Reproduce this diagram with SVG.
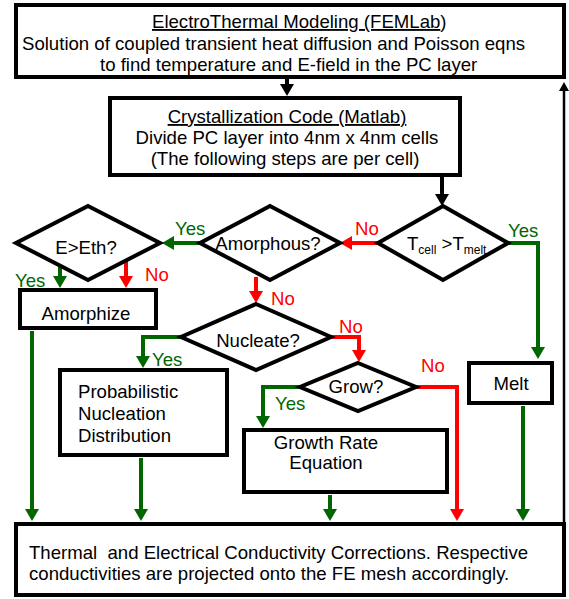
<svg xmlns="http://www.w3.org/2000/svg" width="569" height="599" viewBox="0 0 569 599">
<style>
.box{fill:#fff;stroke:#000;stroke-width:4}
.t{font-family:"Liberation Sans",Arial,sans-serif;font-size:18.6px;fill:#000}
.c{text-anchor:middle}
.u{text-decoration:underline}
.g{fill:none;stroke:#006600;stroke-width:4}
.r{fill:none;stroke:#ff0000;stroke-width:4}
.k{fill:none;stroke:#000;stroke-width:4}
.kt{fill:none;stroke:#000;stroke-width:2.5}
.lg{font-family:"Liberation Sans",Arial,sans-serif;font-size:18.6px;fill:#006600}
.lr{font-family:"Liberation Sans",Arial,sans-serif;font-size:18.6px;fill:#ff0000}
</style>
<defs>
<marker id="ag" markerUnits="userSpaceOnUse" markerWidth="14" markerHeight="14" refX="2" refY="7" orient="auto"><path d="M0,0 L12,7 L0,14 z" fill="#006600"/></marker>
<marker id="ar" markerUnits="userSpaceOnUse" markerWidth="14" markerHeight="14" refX="2" refY="7" orient="auto"><path d="M0,0 L12,7 L0,14 z" fill="#ff0000"/></marker>
<marker id="ak" markerUnits="userSpaceOnUse" markerWidth="14" markerHeight="14" refX="2" refY="7" orient="auto"><path d="M0,0 L12,7 L0,14 z" fill="#000"/></marker>
<marker id="aks" markerUnits="userSpaceOnUse" markerWidth="10" markerHeight="10" refX="1" refY="5" orient="auto"><path d="M0,0 L9,5 L0,10 z" fill="#000"/></marker>
</defs>

<g id="connectors">
<path class="k" d="M287,79 V86" marker-end="url(#ak)"/>
<path class="k" d="M442,176 V196" marker-end="url(#ak)"/>
<path class="r" d="M378,243 H350" marker-end="url(#ar)"/>
<path class="g" d="M508,243 H538 V349" marker-end="url(#ag)"/>
<path class="g" d="M200,243 H172" marker-end="url(#ag)"/>
<path class="g" d="M60,266 V278" marker-end="url(#ag)"/>
<path class="r" d="M126,261 V278" marker-end="url(#ar)"/>
<path class="g" d="M32,331 V511" marker-end="url(#ag)"/>
<path class="r" d="M256,277 V293" marker-end="url(#ar)"/>
<path class="g" d="M181,337 H143 V358" marker-end="url(#ag)"/>
<path class="r" d="M331,337 H359 V352" marker-end="url(#ar)"/>
<path class="g" d="M141,458 V511" marker-end="url(#ag)"/>
<path class="g" d="M300,387 H263 V418" marker-end="url(#ag)"/>
<path class="r" d="M416,387 H457 V511" marker-end="url(#ar)"/>
<path class="g" d="M330,495 V511" marker-end="url(#ag)"/>
<path class="g" d="M523,406 V511" marker-end="url(#ag)"/>
<path class="kt" d="M564,522 V90" marker-end="url(#aks)"/>
</g>

<g id="labels">
<text class="lr" x="355" y="235">No</text>
<text class="lg" x="508" y="237">Yes</text>
<text class="lg" x="175" y="235">Yes</text>
<text class="lg" x="15" y="287">Yes</text>
<text class="lr" x="145" y="281">No</text>
<text class="lr" x="271" y="305">No</text>
<text class="lg" x="152" y="366">Yes</text>
<text class="lr" x="339" y="333">No</text>
<text class="lr" x="421" y="372">No</text>
<text class="lg" x="275" y="410">Yes</text>
</g>

<g id="electrothermal">
<rect class="box" x="16" y="5" width="548" height="72"/>
<text class="t" x="152" y="28"><tspan class="u">ElectroThermal Modeling (FEMLab</tspan>)</text>
<text class="t" x="22" y="50">Solution of coupled transient heat diffusion and Poisson eqns</text>
<text class="t" x="100" y="71">to find temperature and E-field in the PC layer</text>
</g>

<g id="crystallization">
<rect class="box" x="110" y="98" width="350" height="77"/>
<text class="t c u" x="287" y="123">Crystallization Code (Matlab)</text>
<text class="t c" x="287" y="144">Divide PC layer into 4nm x 4nm cells</text>
<text class="t c" x="285" y="165">(The following steps are per cell)</text>
</g>

<g id="tcell">
<polygon class="box" points="443,206 508,243 443,280 378,243"/>
<text class="t" x="407" y="250">T<tspan font-size="12" dy="4">cell</tspan><tspan dy="-4" style="white-space:pre"> &gt;T</tspan><tspan font-size="12" dy="4">melt</tspan></text>
</g>

<g id="amorphous">
<polygon class="box" points="270,206 340,243 270,280 200,243"/>
<text class="t c" x="268" y="250">Amorphous?</text>
</g>

<g id="eeth">
<polygon class="box" points="88,206 160,243 88,280 16,243"/>
<text class="t c" x="86" y="254">E&gt;Eth?</text>
</g>

<g id="amorphize">
<rect class="box" x="20" y="290" width="136" height="38"/>
<text class="t c" x="86" y="320">Amorphize</text>
</g>

<g id="nucleate">
<polygon class="box" points="256,304 331,337 256,370 181,337"/>
<text class="t c" x="258" y="347">Nucleate?</text>
</g>

<g id="probabilistic">
<rect class="box" x="60" y="370" width="167" height="85"/>
<text class="t" x="78" y="398">Probabilistic</text>
<text class="t" x="78" y="420">Nucleation</text>
<text class="t" x="78" y="442">Distribution</text>
</g>

<g id="grow">
<polygon class="box" points="358,363 416,387 358,411 300,387"/>
<text class="t c" x="356" y="393">Grow?</text>
</g>

<g id="growthrate">
<rect class="box" x="244" y="430" width="203" height="62"/>
<text class="t c" x="326" y="449">Growth Rate</text>
<text class="t c" x="326" y="469">Equation</text>
</g>

<g id="melt">
<rect class="box" x="469" y="363" width="83" height="40"/>
<text class="t c" x="511" y="390">Melt</text>
</g>

<g id="conductivity">
<rect class="box" x="16" y="524" width="548" height="71"/>
<text class="t" x="29" y="559" style="white-space:pre">Thermal  and Electrical Conductivity Corrections. Respective</text>
<text class="t" x="29" y="580">conductivities are projected onto the FE mesh accordingly.</text>
</g>
</svg>
